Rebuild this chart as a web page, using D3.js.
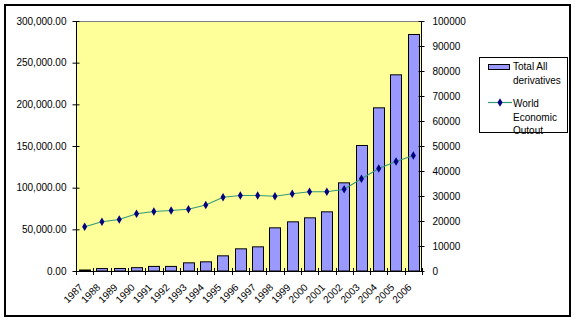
<!DOCTYPE html>
<html><head><meta charset="utf-8">
<script src="https://cdn.jsdelivr.net/npm/d3@7"></script>
<style>body{margin:0;background:#fff}svg{display:block}text{font-family:"Liberation Sans",Arial,sans-serif;font-size:10px;fill:#000}</style>
</head><body><svg id="c" width="576" height="322"></svg>
<script>
const years = ["1987","1988","1989","1990","1991","1992","1993","1994","1995","1996","1997","1998","1999","2000","2001","2002","2003","2004","2005","2006"];
const derivatives = [1200,2900,3000,4000,5500,5500,9800,11000,18200,26600,29000,51800,59000,63800,71000,105800,150600,195800,235400,283800];
const output = [17700,19700,20600,22900,23800,24200,24700,26400,29500,30200,30200,29900,30900,31700,31700,32700,36900,41000,43800,46200];
const leftTicks = [0,50000,100000,150000,200000,250000,300000];
const rightTicks = [0,10000,20000,30000,40000,50000,60000,70000,80000,90000,100000];
const seriesNames = [["Total All","derivatives"],["World","Economic","Outout"]];

const svg = d3.select("#c");
const L=76,R=422,T=21,B=271;
svg.append("rect").attr("x",5).attr("y",5).attr("width",565).attr("height",311).attr("fill","#fff").attr("stroke","#000").attr("stroke-width",2);

const x = d3.scaleBand().domain(years).range([L,R]).paddingInner(0.34).paddingOuter(0.17);
const xb = d3.scaleBand().domain(years).range([L,R]);
const yL = d3.scaleLinear().domain([0,300000]).range([B,T]);
const yR = d3.scaleLinear().domain([0,100000]).range([B,T]);

svg.append("rect").attr("x",L).attr("y",T).attr("width",R-L).attr("height",B-T).attr("fill","#FFFF99");
svg.append("line").attr("x1",L).attr("x2",R).attr("y1",T+0.5).attr("y2",T+0.5).attr("stroke","#808080");

// bars
svg.append("g").selectAll("rect").data(years).join("rect")
  .attr("x",d=>Math.round(x(d))+0.5).attr("width",Math.round(x.bandwidth()))
  .attr("y",(d,i)=>yL(derivatives[i])).attr("height",(d,i)=>B-yL(derivatives[i]))
  .attr("fill","#9999FF").attr("stroke","#000").attr("stroke-width",1);

// line
const cx = d=>xb(d)+xb.bandwidth()/2;
svg.append("path").datum(years).attr("fill","none").attr("stroke","#339977").attr("stroke-width",1.2)
  .attr("d",d3.line().x(d=>cx(d)).y((d,i)=>yR(output[i])));
const diamond = d3.symbol().type(d3.symbolDiamond).size(22);
svg.append("g").selectAll("path").data(years).join("path")
  .attr("transform",(d,i)=>`translate(${cx(d)},${yR(output[i])})`).attr("d",diamond).attr("fill","#000080");

// left axis
const gl = svg.append("g").attr("transform",`translate(${L+0.5},0)`)
  .call(d3.axisLeft(yL).tickValues(leftTicks).tickSize(4).tickPadding(6).tickFormat(d3.format(",.2f")));
gl.select(".domain").attr("d",`M0,${T}V${B+0.5}`).attr("stroke","#000");
gl.selectAll(".tick line").attr("x2",3).attr("x1",-4).attr("stroke","#000");
gl.selectAll("text").attr("font-size",10).attr("font-family","Liberation Sans, Arial").attr("fill","#000");

// right axis
const gr = svg.append("g").attr("transform",`translate(${R-0.5},0)`)
  .call(d3.axisRight(yR).tickValues(rightTicks).tickSize(3).tickPadding(8).tickFormat(d3.format("d")));
gr.select(".domain").attr("d",`M0,${T}V${B+0.5}`).attr("stroke","#000");
gr.selectAll(".tick line").attr("x1",-3).attr("x2",3).attr("stroke","#000");
gr.selectAll("text").attr("font-size",10).attr("font-family","Liberation Sans, Arial").attr("fill","#000");

// bottom axis
svg.append("line").attr("x1",L).attr("x2",R).attr("y1",B+0.5).attr("y2",B+0.5).attr("stroke","#000");
const bounds = years.map(d=>xb(d)).concat([R]);
svg.append("g").selectAll("line").data(bounds).join("line")
  .attr("x1",d=>Math.round(d)+0.5).attr("x2",d=>Math.round(d)+0.5).attr("y1",B-3).attr("y2",B+4).attr("stroke","#000");
svg.append("g").selectAll("text").data(years).join("text")
  .attr("transform",d=>`translate(${cx(d)-6},${B+12}) rotate(-45)`)
  .attr("text-anchor","end").attr("dy","0.7em").text(d=>d);

// legend
const lg = svg.append("g");
lg.append("rect").attr("x",479.5).attr("y",57.5).attr("width",88).attr("height",75).attr("fill","#fff").attr("stroke","#000");
lg.append("rect").attr("x",488.5).attr("y",64.5).attr("width",21).attr("height",5).attr("fill","#9999FF").attr("stroke","#000");
seriesNames[0].forEach((t,i)=>lg.append("text").attr("x",513).attr("y",70+i*14).text(t));
lg.append("line").attr("x1",488).attr("x2",512).attr("y1",102.5).attr("y2",102.5).attr("stroke","#339977").attr("stroke-width",1.2);
lg.append("path").attr("transform","translate(500,102.5)").attr("d",diamond).attr("fill","#000080");
seriesNames[1].forEach((t,i)=>lg.append("text").attr("x",513).attr("y",107+i*13.5).text(t));
</script></body></html>
